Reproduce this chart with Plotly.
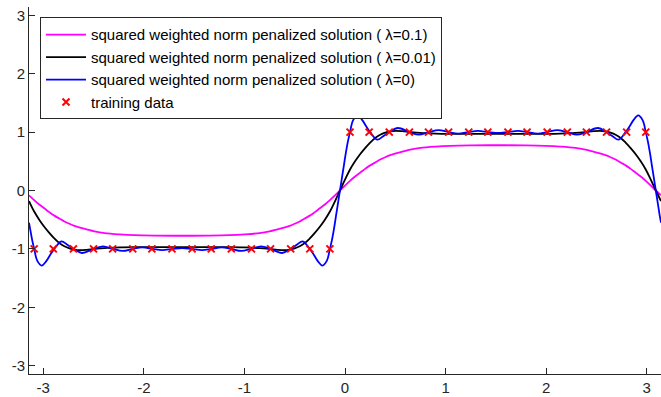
import plotly.graph_objects as go

# training data
train_x = [-3.09, -2.90, -2.70, -2.50, -2.31, -2.11, -1.92, -1.72, -1.52, -1.33, -1.13, -0.93,
           -0.74, -0.54, -0.35, -0.15, 0.05, 0.24, 0.44, 0.64, 0.83, 1.03, 1.23, 1.42,
           1.62, 1.81, 2.01, 2.21, 2.40, 2.60, 2.80, 2.99]
train_y = [-1] * 16 + [1] * 16

# smooth solutions (lambda = 0.1 and 0.01) sampled on the same x positions
smooth_x = [-3.1416, -3.09, -3.04, -2.99, -2.94, -2.89, -2.84, -2.79, -2.74, -2.69, -2.635, -2.57,
            -2.49, -2.39, -2.24, -2.09, -1.89, -1.62, -1.35, -1.15, -1.0, -0.85, -0.75, -0.67,
            -0.605, -0.55, -0.50, -0.45, -0.40, -0.35, -0.30, -0.25, -0.20, -0.15, -0.10, -0.05,
            0.0, 0.05, 0.10, 0.15, 0.20, 0.25, 0.30, 0.35, 0.40, 0.45, 0.505, 0.57,
            0.65, 0.75, 0.90, 1.05, 1.25, 1.52, 1.79, 1.99, 2.14, 2.29, 2.39, 2.47,
            2.535, 2.59, 2.64, 2.69, 2.74, 2.79, 2.84, 2.89, 2.94, 2.99, 3.04, 3.09, 3.1416]
y_lam01 = [-0.082, -0.165, -0.24, -0.305, -0.37, -0.43, -0.48, -0.53, -0.57, -0.605, -0.635, -0.665,
           -0.70, -0.73, -0.752, -0.765, -0.772, -0.775, -0.772, -0.765, -0.752, -0.73, -0.70, -0.665,
           -0.635, -0.605, -0.57, -0.53, -0.48, -0.43, -0.37, -0.305, -0.24, -0.165, -0.085, 0.0,
           0.085, 0.165, 0.24, 0.305, 0.37, 0.43, 0.48, 0.53, 0.57, 0.605, 0.635, 0.665,
           0.70, 0.73, 0.752, 0.765, 0.772, 0.775, 0.772, 0.765, 0.752, 0.73, 0.70, 0.665,
           0.635, 0.605, 0.57, 0.53, 0.48, 0.43, 0.37, 0.305, 0.24, 0.165, 0.085, 0.0, -0.082]
y_lam001 = [-0.18, -0.36, -0.50, -0.62, -0.725, -0.82, -0.90, -0.955, -0.99, -1.012, -1.022, -1.016,
            -1.0, -0.985, -0.975, -0.971, -0.97, -0.97, -0.97, -0.971, -0.975, -0.985, -1.0, -1.016,
            -1.022, -1.012, -0.99, -0.955, -0.90, -0.82, -0.725, -0.62, -0.50, -0.36, -0.185, 0.0,
            0.185, 0.36, 0.50, 0.62, 0.725, 0.82, 0.90, 0.955, 0.99, 1.012, 1.022, 1.016,
            1.0, 0.985, 0.975, 0.971, 0.97, 0.97, 0.97, 0.971, 0.975, 0.985, 1.0, 1.016,
            1.022, 1.012, 0.99, 0.955, 0.90, 0.82, 0.725, 0.62, 0.50, 0.36, 0.185, 0.0, -0.18]

# interpolating solution (lambda = 0)
interp_x = [-3.1416, -3.13, -3.11, -3.09, -3.06, -3.015, -2.97, -2.93, -2.89, -2.82, -2.76, -2.70,
            -2.615, -2.50, -2.405, -2.305, -2.21, -2.11, -2.015, -1.91, -1.82, -1.715, -1.62,
            -1.525, -1.42, -1.328, -1.225, -1.13, -1.03, -0.935, -0.835, -0.74, -0.625, -0.54,
            -0.48, -0.42, -0.35, -0.31, -0.27, -0.225, -0.18, -0.15, -0.13, -0.11, -0.09, -0.07,
            -0.05, -0.03, -0.01, 0.01, 0.03, 0.05, 0.08, 0.125, 0.17, 0.21, 0.25, 0.32,
            0.38, 0.44, 0.525, 0.64, 0.735, 0.835, 0.93, 1.03, 1.125, 1.228, 1.32, 1.425, 1.52,
            1.615, 1.72, 1.812, 1.915, 2.01, 2.11, 2.205, 2.305, 2.40, 2.515, 2.60, 2.66, 2.72,
            2.79, 2.83, 2.87, 2.915, 2.96, 2.99, 3.01, 3.03, 3.05, 3.07, 3.09, 3.11, 3.13, 3.1416]
y_lam0 = [-0.55, -0.66, -0.85, -1.0, -1.20, -1.285, -1.21, -1.10, -1.0, -0.87, -0.93, -1.0,
          -1.07, -1.0, -0.955, -1.0, -1.035, -1.0, -0.975, -1.0, -1.02, -1.0, -0.985,
          -1.0, -1.02, -1.0, -0.975, -1.0, -1.035, -1.0, -0.955, -1.0, -1.07, -1.0,
          -0.93, -0.87, -1.0, -1.10, -1.21, -1.285, -1.20, -1.0, -0.85, -0.66, -0.44, -0.22,
          0.0, 0.22, 0.44, 0.66, 0.85, 1.0, 1.20, 1.285, 1.21, 1.10, 1.0, 0.87,
          0.93, 1.0, 1.07, 1.0, 0.955, 1.0, 1.035, 1.0, 0.975, 1.0, 1.02, 1.0, 0.985,
          1.0, 1.02, 1.0, 0.975, 1.0, 1.035, 1.0, 0.955, 1.0, 1.07, 1.0, 0.93, 0.87,
          1.0, 1.10, 1.21, 1.285, 1.20, 1.0, 0.85, 0.66, 0.44, 0.22, 0.0, -0.22, -0.44, -0.55]

x_ticks = [-3, -2, -1, 0, 1, 2, 3]
x_labels = ["-3", "-2", "-1", "0", "1", "2", "3"]
y_ticks = [-3, -2, -1, 0, 1, 2, 3]
y_labels = ["-3", "-2", "-1", "0", "1", "2", "3"]

FONT = "Liberation Sans, Arial, Helvetica, sans-serif"
AX = "#262626"

fig = go.Figure()
fig.add_trace(go.Scatter(x=smooth_x, y=y_lam01, mode="lines", line=dict(color="#FF00FF", width=1.8, shape="spline"),
                         name="squared weighted norm penalized solution ( λ=0.1)"))
fig.add_trace(go.Scatter(x=smooth_x, y=y_lam001, mode="lines", line=dict(color="#000000", width=1.8, shape="spline"),
                         name="squared weighted norm penalized solution ( λ=0.01)"))
fig.add_trace(go.Scatter(x=interp_x, y=y_lam0, mode="lines", line=dict(color="#0000FF", width=1.8, shape="spline"),
                         name="squared weighted norm penalized solution ( λ=0)"))
fig.add_trace(go.Scatter(x=train_x, y=train_y, mode="markers",
                         marker=dict(symbol="x-thin", size=7, line=dict(color="#FF0000", width=2), color="#FF0000"),
                         name="training data"))

fig.update_layout(
    width=661, height=397,
    margin=dict(l=29, r=0, t=7, b=23, autoexpand=False),
    plot_bgcolor="white", paper_bgcolor="white",
    font=dict(family=FONT, size=15, color=AX),
    showlegend=True,
    legend=dict(x=0.0174, y=0.972, xanchor="left", yanchor="top",
                bgcolor="white", bordercolor=AX, borderwidth=1,
                font=dict(family=FONT, size=15, color="#000000"),
                tracegroupgap=0, itemwidth=40),
    xaxis=dict(range=[-3.14159, 3.14159], tickvals=x_ticks, ticktext=x_labels, ticks="inside", ticklen=6,
               tickcolor=AX, showline=True, linecolor=AX, linewidth=1, showgrid=False, zeroline=False,
               tickfont=dict(family=FONT, size=15, color=AX), ticklabelstandoff=0, mirror=False),
    yaxis=dict(range=[-3.14159, 3.14159], tickvals=y_ticks, ticktext=y_labels, ticks="inside", ticklen=6,
               tickcolor=AX, showline=True, linecolor=AX, linewidth=1, showgrid=False, zeroline=False,
               tickfont=dict(family=FONT, size=15, color=AX), mirror=False),
)

fig.write_html("out.html")
